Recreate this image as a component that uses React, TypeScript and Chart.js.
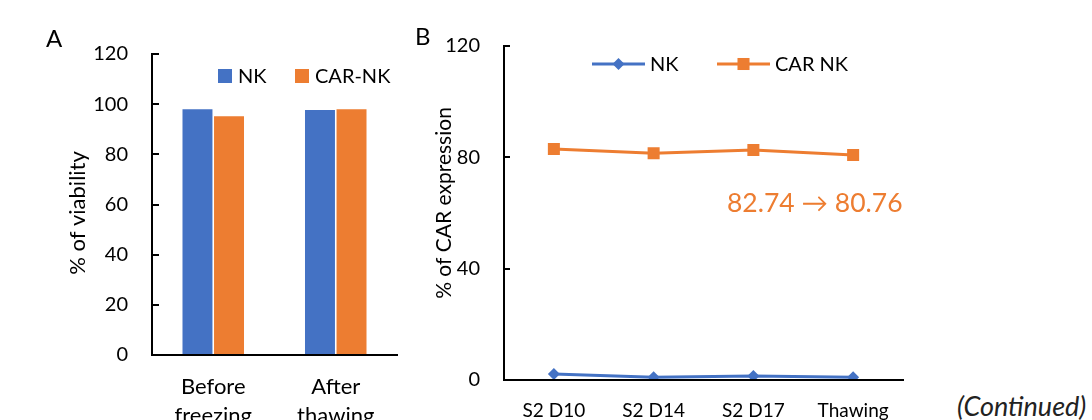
import React, { useEffect, useRef } from 'react';
import { Chart, registerables } from 'chart.js';

Chart.register(...registerables);

const FONT = 'Lato, "Open Sans", "DejaVu Sans", sans-serif';
const BLUE = '#4472C4';
const ORANGE = '#ED7D31';
const INK = '#000000';

// Panel A data
const viabilityCategories = [['Before', 'freezing'], ['After', 'thawing']];
const viabilityNK = [98.0, 97.7];
const viabilityCARNK = [95.2, 98.0];
const viabilitySeriesNames = ['NK', 'CAR-NK'];
const viabilityTitle = '% of viability';

// Panel B data
const expressionCategories = ['S2 D10', 'S2 D14', 'S2 D17', 'Thawing'];
const expressionNK = [2.2, 1.0, 1.4, 1.0];
const expressionCARNK = [83.0, 81.5, 82.6, 80.8];
const expressionSeriesNames = ['NK', 'CAR NK'];
const expressionTitle = '% of CAR expression';
const expressionNote = '82.74 \u2192 80.76';

function inwardTicks(len: number) {
  return {
    id: 'inwardTicks',
    afterDraw(chart: any) {
      const { ctx, chartArea, scales } = chart;
      const y = scales.y;
      ctx.save();
      ctx.strokeStyle = INK;
      ctx.lineWidth = 2;
      y.ticks.forEach((t: any) => {
        const py = Math.round(y.getPixelForValue(t.value));
        ctx.beginPath();
        ctx.moveTo(chartArea.left, py);
        ctx.lineTo(chartArea.left + len, py);
        ctx.stroke();
      });
      ctx.restore();
    },
  };
}

function yTitle(text: string, cx: number, cy: number, size: number) {
  return {
    id: 'yTitle',
    afterDraw(chart: any) {
      const { ctx } = chart;
      ctx.save();
      ctx.translate(cx, cy);
      ctx.rotate(-Math.PI / 2);
      ctx.font = `${size}px ${FONT}`;
      ctx.fillStyle = INK;
      ctx.textAlign = 'center';
      ctx.textBaseline = 'middle';
      ctx.fillText(text, 0, 0);
      ctx.restore();
    },
  };
}

const barLegend = {
  id: 'barLegend',
  afterDraw(chart: any) {
    const { ctx } = chart;
    const items = [
      { box: 218, text: 238 },
      { box: 295, text: 315 },
    ];
    ctx.save();
    ctx.font = `20px ${FONT}`;
    ctx.textBaseline = 'middle';
    ctx.textAlign = 'left';
    chart.data.datasets.forEach((ds: any, i: number) => {
      const it = items[i];
      ctx.fillStyle = ds.backgroundColor;
      ctx.fillRect(it.box, 69, 14, 14);
      ctx.fillStyle = INK;
      ctx.fillText(ds.label, it.text, 77);
    });
    ctx.restore();
  },
};

const lineLegend = {
  id: 'lineLegend',
  afterDraw(chart: any) {
    const { ctx } = chart;
    const items = [
      { x0: 182, x1: 235, text: 240 },
      { x0: 307, x1: 360, text: 365 },
    ];
    const y = 64;
    ctx.save();
    ctx.font = `20px ${FONT}`;
    ctx.textBaseline = 'middle';
    ctx.textAlign = 'left';
    chart.data.datasets.forEach((ds: any, i: number) => {
      const it = items[i];
      ctx.strokeStyle = ds.borderColor;
      ctx.lineWidth = 3;
      ctx.beginPath();
      ctx.moveTo(it.x0, y);
      ctx.lineTo(it.x1, y);
      ctx.stroke();
      const mx = (it.x0 + it.x1) / 2;
      ctx.fillStyle = ds.borderColor;
      if (ds.pointStyle === 'rectRot') {
        const r = ds.pointRadius;
        ctx.beginPath();
        ctx.moveTo(mx, y - r);
        ctx.lineTo(mx + r, y);
        ctx.lineTo(mx, y + r);
        ctx.lineTo(mx - r, y);
        ctx.closePath();
        ctx.fill();
      } else {
        const s = ds.pointRadius * Math.SQRT1_2;
        ctx.fillRect(mx - s, y - s, 2 * s, 2 * s);
      }
      ctx.fillStyle = INK;
      ctx.fillText(ds.label, it.text, y + 1);
    });
    ctx.restore();
  },
};

const noteLabel = {
  id: 'noteLabel',
  afterDraw(chart: any) {
    const { ctx } = chart;
    ctx.save();
    ctx.font = `26.5px ${FONT}`;
    ctx.fillStyle = ORANGE;
    ctx.textAlign = 'left';
    ctx.textBaseline = 'middle';
    ctx.fillText(expressionNote, 317, 203);
    ctx.restore();
  },
};

function ViabilityChart() {
  const ref = useRef<HTMLCanvasElement>(null);
  useEffect(() => {
    if (!ref.current) return;
    const H = 460;
    const chart = new Chart(ref.current, {
      type: 'bar',
      data: {
        labels: viabilityCategories as any,
        datasets: [
          { label: viabilitySeriesNames[0], data: viabilityNK, backgroundColor: BLUE, barPercentage: 0.95, categoryPercentage: 0.515 },
          { label: viabilitySeriesNames[1], data: viabilityCARNK, backgroundColor: ORANGE, barPercentage: 0.95, categoryPercentage: 0.515 },
        ],
      },
      options: {
        responsive: false,
        animation: false,
        devicePixelRatio: 1,
        layout: { padding: { left: 0, right: 13, top: 54, bottom: 0 } },
        plugins: { legend: { display: false }, tooltip: { enabled: false } },
        scales: {
          x: {
            grid: { display: false, drawTicks: false },
            border: { display: true, color: INK, width: 2, z: 1 },
            ticks: { color: INK, font: { family: FONT, size: 22, lineHeight: 1.3 }, padding: 18, maxRotation: 0, autoSkip: false },
            afterFit: (s: any) => { s.height = H - 355; },
          },
          y: {
            min: 0,
            max: 120,
            grid: { display: false, drawTicks: false },
            border: { display: true, color: INK, width: 2, z: 1 },
            ticks: { stepSize: 20, color: INK, font: { family: FONT, size: 20 }, padding: 24 },
            afterFit: (s: any) => { s.width = 152; },
          },
        },
      },
      plugins: [inwardTicks(7), yTitle(viabilityTitle, 78, 213, 22), barLegend],
    } as any);
    return () => chart.destroy();
  }, []);
  return <canvas ref={ref} width={410} height={460} style={{ position: 'absolute', left: 0, top: 0 }} />;
}

function ExpressionChart() {
  const ref = useRef<HTMLCanvasElement>(null);
  useEffect(() => {
    if (!ref.current) return;
    const H = 460;
    const chart = new Chart(ref.current, {
      type: 'line',
      data: {
        labels: expressionCategories,
        datasets: [
          { label: expressionSeriesNames[0], data: expressionNK, borderColor: BLUE, backgroundColor: BLUE, borderWidth: 3, pointStyle: 'rectRot', pointRadius: 6, pointBorderWidth: 0, pointBackgroundColor: BLUE },
          { label: expressionSeriesNames[1], data: expressionCARNK, borderColor: ORANGE, backgroundColor: ORANGE, borderWidth: 3, pointStyle: 'rect', pointRadius: 8.5, pointBorderWidth: 0, pointBackgroundColor: ORANGE },
        ],
      },
      options: {
        responsive: false,
        animation: false,
        devicePixelRatio: 1,
        layout: { padding: { left: 0, right: 37, top: 46, bottom: 0 } },
        plugins: { legend: { display: false }, tooltip: { enabled: false } },
        scales: {
          x: {
            offset: true,
            grid: { display: false, drawTicks: false, offset: true },
            border: { display: true, color: INK, width: 2, z: 1 },
            ticks: { color: INK, font: { family: FONT, size: 19 }, padding: 19, maxRotation: 0, autoSkip: false },
            afterFit: (s: any) => { s.height = H - 380; },
          },
          y: {
            min: 0,
            max: 120,
            grid: { display: false, drawTicks: false },
            border: { display: true, color: INK, width: 2, z: 1 },
            ticks: { stepSize: 40, color: INK, font: { family: FONT, size: 20 }, padding: 24 },
            afterFit: (s: any) => { s.width = 94; },
          },
        },
      },
      plugins: [inwardTicks(6), yTitle(expressionTitle, 34, 203, 21), lineLegend, noteLabel],
    } as any);
    return () => chart.destroy();
  }, []);
  return <canvas ref={ref} width={530} height={460} style={{ position: 'absolute', left: 410, top: 0 }} />;
}

export default function App() {
  const label: React.CSSProperties = { position: 'absolute', fontFamily: FONT, fontSize: 24, lineHeight: 1, color: INK, whiteSpace: 'nowrap' };
  return (
    <div style={{ position: 'absolute', left: 0, top: 0, width: 1092, height: 420, overflow: 'hidden', background: '#fff' }}>
      <ViabilityChart />
      <ExpressionChart />
      <span style={{ ...label, left: 46, top: 26 }}>A</span>
      <span style={{ ...label, left: 415, top: 24 }}>B</span>
      <span style={{ ...label, left: 957, top: 392, fontSize: 27, fontStyle: 'italic', color: '#222' }}>(Continued)</span>
    </div>
  );
}
